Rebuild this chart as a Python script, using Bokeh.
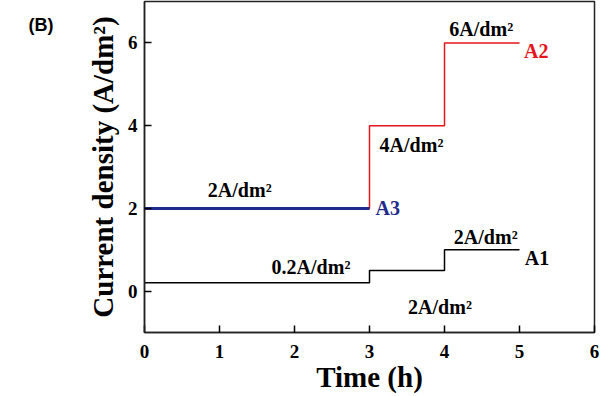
from bokeh.plotting import figure
from bokeh.models import Range1d, FixedTicker, LinearAxis
from bokeh.core.properties import value
from bokeh.embed import file_html
from bokeh.resources import INLINE

# Data (time in h, current density in A/dm^2)
a1_time = [0, 3, 4, 5]
a1_current = [0.2, 0.5, 1.0, 1.0]
a2_time = [0, 3, 4, 5]
a2_current = [2, 4, 6, 6]
a3_time = [0, 3]
a3_current = [2, 2]

x_ticks = [0, 1, 2, 3, 4, 5, 6]
y_ticks = [0, 2, 4, 6]

# annotation texts with anchor in data coordinates
ann_text = ["2A/dm²", "0.2A/dm²", "4A/dm²", "6A/dm²", "2A/dm²", "2A/dm²"]
ann_x = [1.27, 2.22, 3.56, 4.49, 4.55, 3.94]
ann_y = [2.44, 0.58, 3.53, 6.33, 1.31, -0.38]

series_names = ["A1", "A2", "A3"]
name_x = [5.07, 5.06, 3.08]
name_y = [0.80, 5.81, 2.0]
name_colors = ["#000000", "#e8141c", "#1e2a8c"]

panel_tag = "(B)"
panel_tag_y = 6.42

SERIF = "Liberation Serif"

p = figure(width=600, height=396, output_backend="svg", toolbar_location=None,
           x_range=Range1d(0, 6), y_range=Range1d(-1.0, 7.0),
           min_border_left=144, min_border_right=6, min_border_top=1,
           min_border_bottom=64)
p.grid.visible = False
p.outline_line_color = "#222222"
p.outline_line_width = 1.5
p.background_fill_color = "white"
p.border_fill_color = "white"

p.step(a1_time, a1_current, mode="after", line_color="black", line_width=1.5)
p.step(a2_time, a2_current, mode="after", line_color=name_colors[1], line_width=1.5)
p.line(a3_time, a3_current, line_color=name_colors[2], line_width=3)

p.text(x=ann_x, y=ann_y, text=ann_text, text_font=value(SERIF),
       text_font_style="bold", text_font_size="20px", text_align="center",
       text_baseline="middle", text_color="black")
p.text(x=name_x, y=name_y, text=series_names, text_font=value(SERIF),
       text_font_style="bold", text_font_size="20px", text_align="left",
       text_baseline="middle", text_color=name_colors)

for ax, ticks, label in ((p.xaxis[0], x_ticks, "Time (h)"),
                         (p.yaxis[0], y_ticks, "Current density (A/dm²)")):
    ax.ticker = FixedTicker(ticks=ticks)
    ax.minor_tick_line_color = None
    ax.major_tick_in = 7
    ax.major_tick_out = 0
    ax.major_tick_line_width = 1.5
    ax.axis_line_width = 1.5
    ax.axis_line_color = "#222222"
    ax.major_label_text_font = SERIF
    ax.major_label_text_font_style = "bold"
    ax.major_label_text_font_size = "19px"
    ax.major_label_text_color = "black"
    ax.axis_label = label
    ax.axis_label_text_font = SERIF
    ax.axis_label_text_font_style = "bold"
    ax.axis_label_text_font_size = "29px"
    ax.axis_label_text_color = "black"

p.xaxis[0].major_label_standoff = 12
p.xaxis[0].axis_label_standoff = 0
p.yaxis[0].major_label_standoff = 7
p.yaxis[0].axis_label_standoff = 6

# panel tag "(B)" drawn as the only label of an outer, line-less left axis
tag_axis = LinearAxis(ticker=FixedTicker(ticks=[panel_tag_y]),
                      major_label_overrides={panel_tag_y: panel_tag},
                      axis_line_color=None, major_tick_line_color=None,
                      minor_tick_line_color=None, major_tick_in=0,
                      major_tick_out=0, major_label_standoff=30,
                      major_label_text_font="Liberation Sans",
                      major_label_text_font_style="bold",
                      major_label_text_font_size="18px",
                      major_label_text_color="black")
p.add_layout(tag_axis, "left")

open("out.html", "w").write(file_html(p, INLINE))
